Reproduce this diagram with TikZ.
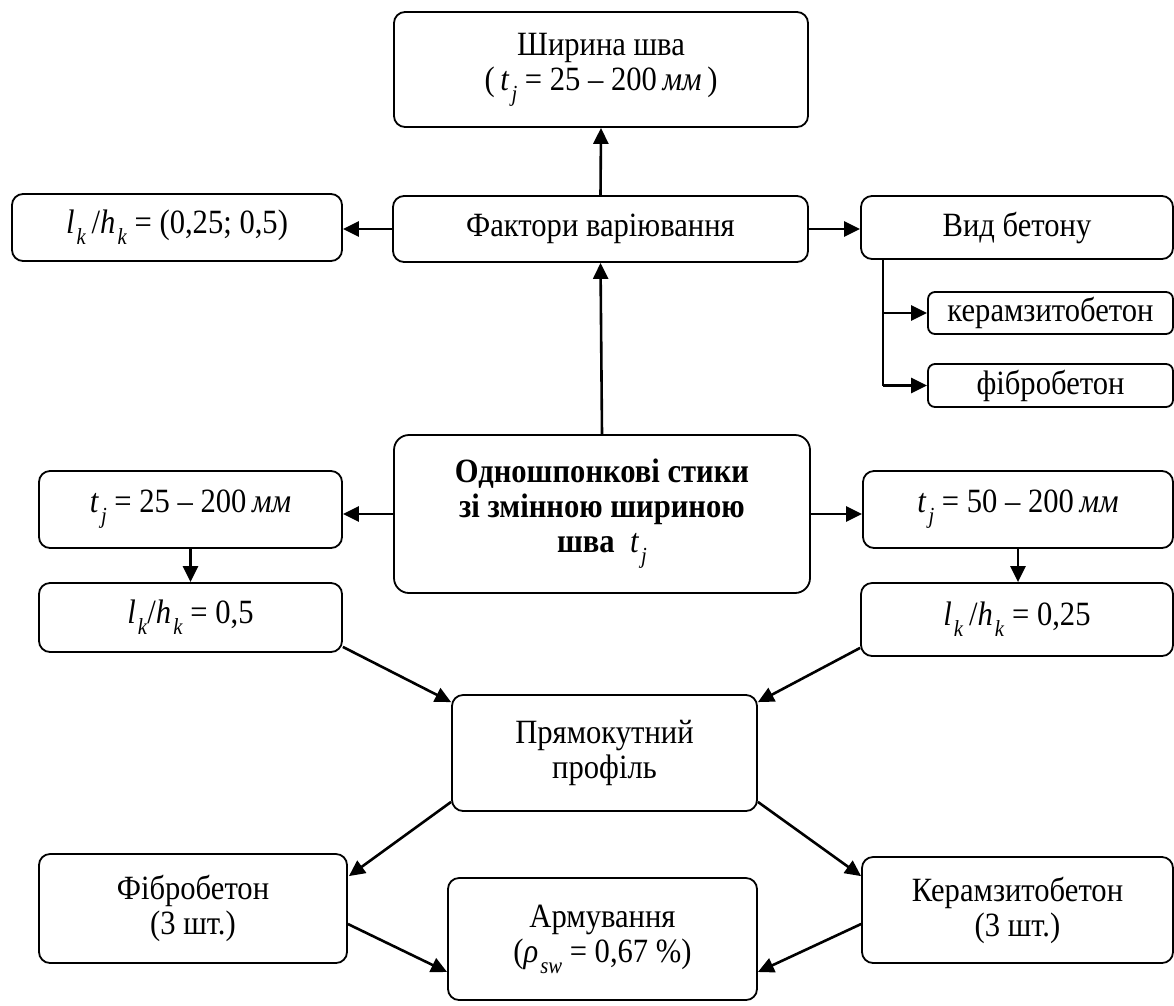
\documentclass[tikz,border=0pt]{standalone}
\usepackage{fontspec}
\setmainfont{Liberation Serif}[FakeStretch=0.9]
\usetikzlibrary{arrows.meta,calc}

% italic symbol with a lowered italic index
\newcommand{\isub}[2]{\textit{#1}\kern0.06em\raisebox{-0.32em}{\fontsize{23}{23}\selectfont\textit{#2}}}

\begin{document}
\begin{tikzpicture}[x=1pt,y=-1pt,
  box/.style={draw, line width=1.8pt, rounded corners=11pt, align=center,
    inner sep=0pt, font=\fontsize{34}{35}\selectfont},
  smallbox/.style={box, rounded corners=7pt},
  arr/.style={-{Triangle[length=16pt,width=15pt]}, line width=2.6pt},
  branch/.style={line width=2.4pt},
  ]
\useasboundingbox (0,0) rectangle (1174,1005);

% upper part
\node[box, minimum width=414pt, minimum height=115pt] (shir) at (601,69.5)
  {Ширина шва\\(\,\isub{t}{j} = 25 – 200\,\textit{мм}\,)};
\node[box, minimum width=415pt, minimum height=66pt] (fakt) at (600.5,229)
  {Фактори варіювання};
\node[box, minimum width=330pt, minimum height=67pt] (lkh) at (177,227.5)
  {\isub{l}{k}\,/\isub{h}{k} = (0,25; 0,5)};
\node[box, minimum width=312pt, minimum height=63pt] (vid) at (1017,227.5)
  {Вид бетону};
\node[smallbox, minimum width=245pt, minimum height=42pt] (kers) at (1050.5,313)
  {керамзитобетон};
\node[smallbox, minimum width=245pt, minimum height=43pt] (fibs) at (1050.5,385.5)
  {фібробетон};

% central part
\node[box, rounded corners=15pt, minimum width=416pt, minimum height=158pt] (main) at (602,514)
  {\textbf{Одношпонкові стики}\\\textbf{зі змінною шириною}\\\textbf{шва}\ \ \isub{t}{j}};
\node[box, minimum width=303pt, minimum height=77pt] (tL) at (190.5,509.5)
  {\isub{t}{j} = 25 – 200\,\textit{мм}};
\node[box, minimum width=303pt, minimum height=69pt] (lL) at (190.5,617.5)
  {\isub{l}{k}/\isub{h}{k} = 0,5};
\node[box, minimum width=310pt, minimum height=77pt] (tR) at (1018,509.5)
  {\isub{t}{j} = 50 – 200\,\textit{мм}};
\node[box, minimum width=312pt, minimum height=73pt] (lR) at (1017,619.5)
  {\isub{l}{k}\,/\isub{h}{k} = 0,25};

% lower part
\node[box, minimum width=305pt, minimum height=116pt] (pr) at (604.5,753)
  {Прямокутний\\профіль};
\node[box, minimum width=308pt, minimum height=109pt] (fibro) at (193,908.5)
  {Фібробетон\\(3 шт.)};
\node[box, minimum width=309pt, minimum height=122pt] (arm) at (602.5,939)
  {Армування\\(\isub{ρ}{sw} = 0,67 \%)};
\node[box, minimum width=311pt, minimum height=106pt] (ker) at (1017.5,910)
  {Керамзитобетон\\(3 шт.)};

% connectors
\draw[arr] (fakt.north) -- (shir.south);
\draw[arr] (fakt.west) -- (fakt.west -| lkh.east);
\draw[arr] (fakt.east) -- (fakt.east -| vid.west);
\draw[arr] (main.north) -- (fakt.south);

\coordinate (vb) at ($(vid.south west)+(23,0)$);
\draw[branch] (vb) -- (vb |- fibs.west);
\draw[arr] (vb |- kers.west) -- (kers.west);
\draw[arr] (vb |- fibs.west) -- (fibs.west);

\draw[arr] (main.west) -- (main.west -| tL.east);
\draw[arr] (main.east) -- (main.east -| tR.west);
\draw[arr] (tL.south) -- (tL.south |- lL.north);
\draw[arr] (tR.south) -- (tR.south |- lR.north);

\draw[arr] ($(lL.south east)+(0,-6)$) -- ($(pr.north west)+(0,8)$);
\draw[arr] ($(lR.south west)+(0,-9)$) -- ($(pr.north east)+(0,8)$);
\draw[arr] ($(pr.south west)+(0,-10)$) -- ($(fibro.north east)+(1,23)$);
\draw[arr] ($(pr.south east)+(0,-10)$) -- ($(ker.north west)+(0,20)$);
\draw[arr] ($(fibro.east)+(0,15.5)$) -- ($(arm.west)+(0,33)$);
\draw[arr] ($(ker.west)+(0,14)$) -- ($(arm.east)+(0,33)$);
\end{tikzpicture}
\end{document}
